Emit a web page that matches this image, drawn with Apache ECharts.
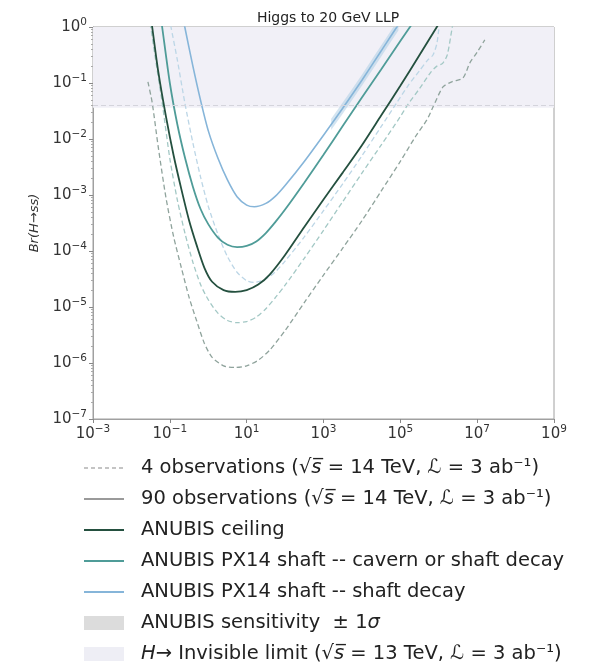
<!DOCTYPE html>
<html>
<head>
<meta charset="utf-8">
<script src="https://cdn.jsdelivr.net/npm/echarts@6/dist/echarts.min.js"></script>
<style>
  html, body { margin: 0; padding: 0; background: #ffffff; }
  #chart { width: 596px; height: 664px; }
</style>
</head>
<body>
<div id="chart"></div>
<script>
// Decay length c·tau [m] and branching-ratio reach Br(H->ss) for a 20 GeV LLP.

// ANUBIS ceiling, 90 observations
const ceilTau = [0.0316, 0.0347, 0.0501, 0.0794, 0.126, 0.2, 0.316, 0.501, 0.794, 1.26, 2.51, 5.01, 10, 20, 39.8, 100, 316, 1000, 3162, 1e4, 3.16e4, 1e5, 3.16e5, 8.91e5, 1.12e6];
const ceilBr  = [1.58, 1.0, 0.158, 0.0251, 5.01e-3, 1.26e-3, 3.55e-4, 1.26e-4, 5.01e-5, 2.82e-5, 2.0e-5, 1.86e-5, 2.0e-5, 2.51e-5, 3.8e-5, 8.51e-5, 2.69e-4, 8.32e-4, 2.51e-3, 7.76e-3, 0.0263, 0.0891, 0.316, 1.0, 1.26];

// ANUBIS PX14 shaft, cavern or shaft decay, 90 observations
const cavTau = [0.0562, 0.0631, 0.1, 0.158, 0.251, 0.398, 0.631, 1.0, 1.78, 3.16, 5.62, 10, 17.8, 31.6, 56.2, 100, 316, 1000, 3162, 1e4, 3.16e4, 1e5, 1.78e5, 2.24e5];
const cavBr  = [1.78, 1.0, 0.1, 0.0178, 4.47e-3, 1.41e-3, 5.62e-4, 3.02e-4, 1.74e-4, 1.29e-4, 1.17e-4, 1.23e-4, 1.48e-4, 2.09e-4, 3.31e-4, 5.5e-4, 1.66e-3, 5.25e-3, 0.017, 0.055, 0.174, 0.562, 1.0, 1.26];

// ANUBIS PX14 shaft, shaft decay only, 90 observations
const shaftTau = [0.2, 0.245, 0.398, 0.631, 1.0, 1.78, 3.16, 5.62, 10, 15.8, 31.6, 56.2, 100, 316, 1000, 3162, 1e4, 3.16e4, 8.13e4, 1e5];
const shaftBr  = [2.0, 1.0, 0.2, 0.049, 0.0141, 4.57e-3, 1.86e-3, 9.33e-4, 6.61e-4, 6.17e-4, 7.08e-4, 9.55e-4, 1.48e-3, 3.98e-3, 0.0117, 0.0355, 0.112, 0.372, 1.0, 1.2];

// Same configurations, 4 observations
const ceil4Tau = [0.0269, 0.0347, 0.0501, 0.0794, 0.126, 0.2, 0.316, 0.501, 0.794, 1.26, 2.51, 5.01, 10, 20, 39.8, 100, 316, 1000, 3162, 1e4, 3.16e4, 1e5, 2.51e5, 4.9e5, 7.08e5, 1.29e6, 2.19e6, 4.27e6, 6.46e6, 1e7, 1.58e7];
const ceil4Br  = [0.105, 0.0447, 7.08e-3, 8.9e-4, 1.78e-4, 5.0e-5, 1.5e-5, 5.62e-6, 2.24e-6, 1.26e-6, 8.91e-7, 8.32e-7, 8.91e-7, 1.12e-6, 1.7e-6, 3.8e-6, 1.2e-5, 3.72e-5, 1.12e-4, 3.47e-4, 1.17e-3, 3.98e-3, 0.0112, 0.0219, 0.0372, 0.0851, 0.105, 0.123, 0.229, 0.355, 0.589];

const cav4Tau = [0.0269, 0.0398, 0.0631, 0.1, 0.158, 0.251, 0.398, 0.631, 1.0, 1.78, 3.16, 5.62, 10, 17.8, 31.6, 56.2, 100, 316, 1000, 3162, 1e4, 3.16e4, 1e5, 1.58e5, 3.16e5, 6.31e5, 8.91e5, 1.26e6, 1.66e6, 2.19e6, 2.4e6];
const cav4Br  = [2.24, 0.355, 0.0447, 4.47e-3, 7.94e-4, 2.0e-4, 6.31e-5, 2.51e-5, 1.35e-5, 7.76e-6, 5.75e-6, 5.25e-6, 5.5e-6, 6.61e-6, 9.33e-6, 1.48e-5, 2.45e-5, 7.41e-5, 2.34e-4, 7.59e-4, 2.45e-3, 7.76e-3, 0.0251, 0.0417, 0.0794, 0.158, 0.2, 0.224, 0.316, 0.891, 1.26];

const shaft4Tau = [0.0794, 0.107, 0.158, 0.245, 0.398, 0.631, 1.0, 1.78, 3.16, 5.62, 10, 15.8, 31.6, 56.2, 100, 316, 1000, 3162, 1e4, 3.16e4, 8.13e4, 1.58e5, 3.16e5, 5.01e5, 7.08e5, 8.91e5, 1e6, 1.12e6];
const shaft4Br  = [2.82, 1.0, 0.251, 0.0447, 8.51e-3, 2.09e-3, 6.31e-4, 2.0e-4, 7.94e-5, 4.17e-5, 2.95e-5, 2.75e-5, 3.16e-5, 4.27e-5, 6.61e-5, 1.78e-4, 5.25e-4, 1.58e-3, 5.01e-3, 0.0166, 0.0447, 0.0891, 0.166, 0.251, 0.316, 0.501, 0.891, 1.26];

// ±1σ sensitivity band of the shaft-decay reach
const sensTau  = [1585, 3162, 5623, 1e4, 1.78e4, 3.16e4, 5.62e4, 8.9e4];
const sensHigh = [0.0229, 0.0447, 0.079, 0.141, 0.257, 0.468, 0.851, 1.38];
const sensLow  = [0.0145, 0.0282, 0.05, 0.089, 0.162, 0.295, 0.537, 0.87];

// H -> invisible limit
const invisibleLimit = 0.036;

// Axis tick values
const xTicks = [1e-3, 1e-1, 1e1, 1e3, 1e5, 1e7, 1e9];
const yTicks = [1e-7, 1e-6, 1e-5, 1e-4, 1e-3, 1e-2, 1e-1, 1e0];

const FONT = 'DejaVu Sans';
const C_CEIL = '#24503f', C_CAV = '#4f9c98', C_SHAFT = '#86b5d9';
const C_CEIL4 = '#8fa39c', C_CAV4 = '#a3c8c5', C_SHAFT4 = '#bcd6e6';

const N4 = '4 observations (√s = 14 TeV, ℒ = 3 ab⁻¹)';
const N90 = '90 observations (√s = 14 TeV, ℒ = 3 ab⁻¹)';
const NCEIL = 'ANUBIS ceiling';
const NCAV = 'ANUBIS PX14 shaft -- cavern or shaft decay';
const NSHAFT = 'ANUBIS PX14 shaft -- shaft decay';
const NSENS = 'ANUBIS sensitivity ± 1σ';
const NINV = 'H→ Invisible limit (√s = 13 TeV, ℒ = 3 ab⁻¹)';

const legendRich = {};
legendRich[N4] = '{t|4 observations (√}{it|s̅}{t| = 14 TeV, }{it|ℒ}{t| = 3 ab⁻¹)}';
legendRich[N90] = '{t|90 observations (√}{it|s̅}{t| = 14 TeV, }{it|ℒ}{t| = 3 ab⁻¹)}';
legendRich[NCEIL] = '{t|ANUBIS ceiling}';
legendRich[NCAV] = '{t|ANUBIS PX14 shaft -- cavern or shaft decay}';
legendRich[NSHAFT] = '{t|ANUBIS PX14 shaft -- shaft decay}';
legendRich[NSENS] = '{t|ANUBIS sensitivity  ± 1}{it|σ}';
legendRich[NINV] = '{it|H}{t|→ Invisible limit (√}{it|s̅}{t| = 13 TeV, }{it|ℒ}{t| = 3 ab⁻¹)}';

function pairs(xs, ys) { return xs.map((x, i) => [x, ys[i]]); }

function powLabel(v) {
  const e = Math.round(Math.log10(v));
  return '{b|10}{s|' + (e < 0 ? '\u2212' + (-e) : String(e)) + '}';
}

// minor ticks of the y axis at 2..9 × 10^n
const yMinor = [];
for (let e = -7; e < 0; e++) for (let m = 2; m <= 9; m++) yMinor.push(m * Math.pow(10, e));

const labelRich = {
  b: { fontFamily: FONT, fontSize: 15, color: '#333' },
  s: { fontFamily: FONT, fontSize: 10.5, color: '#333', padding: [0, 0, 9, 0] }
};

function lineSeries(name, tau, br, color, width, dashed, z) {
  return {
    name: name, type: 'line', data: pairs(tau, br),
    showSymbol: false, symbol: 'none', smooth: 0.25, clip: true, z: z,
    lineStyle: { color: color, width: width, type: dashed ? [5, 3] : 'solid' },
    itemStyle: { color: color }, silent: true
  };
}

const hideSymbol = { opacity: 0 };

const chart = echarts.init(document.getElementById('chart'), null, { renderer: 'canvas' });

chart.setOption({
  animation: false,
  backgroundColor: '#ffffff',
  title: {
    text: 'Higgs to 20 GeV LLP', left: 323, top: 6, textAlign: 'center',
    textStyle: { fontFamily: FONT, fontSize: 14, fontWeight: 'normal', color: '#222' }
  },
  grid: { left: 93, top: 27, width: 461, height: 392, show: true, borderColor: '#a0a0a0', borderWidth: 1, containLabel: false },
  xAxis: {
    type: 'log', logBase: 10, min: 1e-3, max: 1e9,
    axisLine: { lineStyle: { color: '#a0a0a0', width: 1 } },
    axisTick: { show: true, length: 4, customValues: xTicks, lineStyle: { color: '#888' } },
    axisLabel: { customValues: xTicks, margin: 5, formatter: powLabel, rich: labelRich },
    splitLine: { show: false }
  },
  yAxis: [{
    type: 'log', logBase: 10, min: 1e-7, max: 1,
    name: 'Br(H→ss)', nameLocation: 'middle', nameGap: 50,
    nameTextStyle: { fontFamily: FONT, fontSize: 13, fontStyle: 'italic', color: '#333' },
    axisLine: { lineStyle: { color: '#a0a0a0', width: 1 } },
    axisTick: { show: true, length: 4, customValues: yTicks, lineStyle: { color: '#888' } },
    axisLabel: { customValues: yTicks, margin: 6, formatter: powLabel, rich: labelRich },
    splitLine: { show: false }
  }, {
    type: 'log', logBase: 10, min: 1e-7, max: 1, position: 'left',
    axisLine: { show: false },
    axisTick: { show: true, length: 2, customValues: yMinor, lineStyle: { color: '#aaa' } },
    axisLabel: { show: false },
    splitLine: { show: false }
  }],
  legend: {
    orient: 'vertical', left: 83, top: 458, padding: 0,
    itemWidth: 40, itemHeight: 14, itemGap: 11, selectedMode: false,
    data: [
      { name: N4, itemStyle: hideSymbol }, { name: N90, itemStyle: hideSymbol },
      { name: NCEIL, itemStyle: hideSymbol }, { name: NCAV, itemStyle: hideSymbol },
      { name: NSHAFT, itemStyle: hideSymbol },
      { name: NSENS, icon: 'rect', itemStyle: { color: '#dcdcdc', opacity: 1 } },
      { name: NINV, icon: 'rect', itemStyle: { color: '#eeeef5', opacity: 1 } }
    ],
    formatter: function (n) { return legendRich[n] || n; },
    textStyle: {
      fontFamily: FONT, fontSize: 19.5, color: '#222',
      rich: {
        t: { fontFamily: FONT, fontSize: 19.5, color: '#222' },
        it: { fontFamily: FONT, fontSize: 19.5, color: '#222', fontStyle: 'italic' }
      },
      padding: [0, 0, 0, 12]
    }
  },
  series: [
    {
      name: NINV, type: 'line', data: [], silent: true, z: 1,
      itemStyle: { color: '#eeeef5' },
      markArea: {
        silent: true, itemStyle: { color: '#f1f0f7', opacity: 1 },
        data: [[{ yAxis: invisibleLimit }, { yAxis: 1 }]]
      },
      markLine: {
        silent: true, symbol: 'none', label: { show: false },
        lineStyle: { color: '#d4d4dc', type: [5, 3], width: 1 },
        data: [{ yAxis: invisibleLimit }]
      }
    },
    {
      name: NSENS, type: 'custom', z: 2, silent: true, clip: true,
      itemStyle: { color: '#dcdcdc' },
      data: [[sensTau[0], sensLow[0]]],
      renderItem: function (params, api) {
        const pts = [];
        for (let i = 0; i < sensTau.length; i++) pts.push(api.coord([sensTau[i], sensHigh[i]]));
        for (let i = sensTau.length - 1; i >= 0; i--) pts.push(api.coord([sensTau[i], sensLow[i]]));
        return { type: 'polygon', shape: { points: pts }, style: { fill: '#a9cbe3', opacity: 0.5 } };
      }
    },
    { name: N4, type: 'line', data: [], showSymbol: false, symbol: 'none', lineStyle: { color: '#c4c4c4', width: 1, type: [4, 3] }, itemStyle: { color: '#c4c4c4' } },
    { name: N90, type: 'line', data: [], showSymbol: false, symbol: 'none', lineStyle: { color: '#9a9a9a', width: 1.5 }, itemStyle: { color: '#9a9a9a' } },
    lineSeries('ceiling 4 obs', ceil4Tau, ceil4Br, C_CEIL4, 1.3, true, 3),
    lineSeries('cavern or shaft 4 obs', cav4Tau, cav4Br, C_CAV4, 1.3, true, 3),
    lineSeries('shaft 4 obs', shaft4Tau, shaft4Br, C_SHAFT4, 1.3, true, 3),
    lineSeries(NSHAFT, shaftTau, shaftBr, C_SHAFT, 1.6, false, 4),
    lineSeries(NCAV, cavTau, cavBr, C_CAV, 1.8, false, 4),
    lineSeries(NCEIL, ceilTau, ceilBr, C_CEIL, 1.8, false, 5)
  ]
});
</script>
</body>
</html>
